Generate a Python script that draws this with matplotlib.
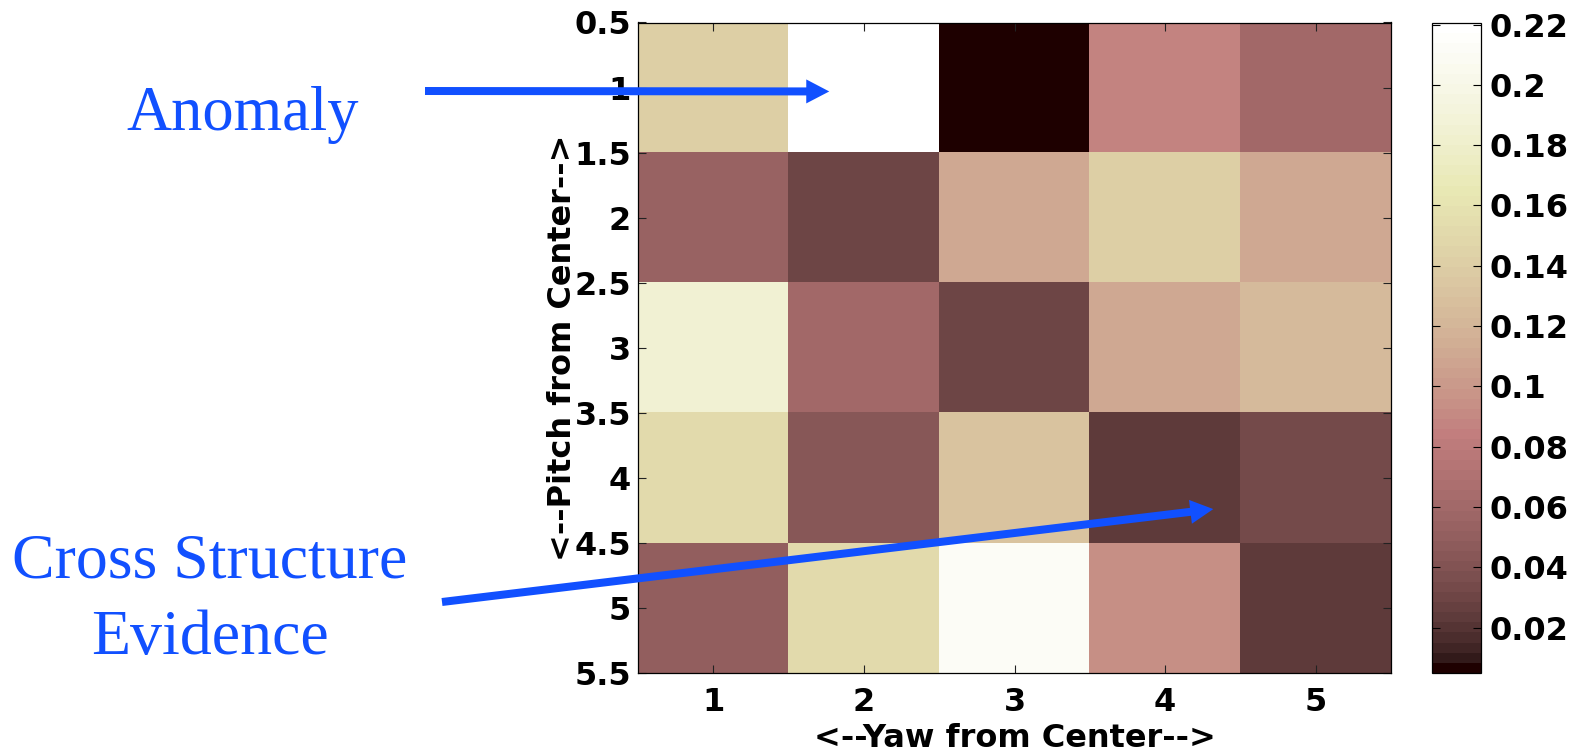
"""
Yaw/pitch response map with annotated features.

Draws a 5x5 heat map of the response around the beam centre using the
MATLAB-style "pink" colour map, with a colour bar on the right and two
callouts on the left pointing at the anomaly and the cross structure.
"""

import numpy as np
import matplotlib
matplotlib.use("Agg")
import matplotlib.pyplot as plt
from matplotlib.colors import ListedColormap
from matplotlib.patches import FancyArrow
from matplotlib.transforms import IdentityTransform

# ---- data -----------------------------------------------------------------
yaw = [1, 2, 3, 4, 5]
pitch = [1, 2, 3, 4, 5]

# rows = pitch bins (top to bottom), columns = yaw bins
row_1 = [0.1405, 0.2205, 0.0050, 0.0867, 0.0598]
row_2 = [0.0534, 0.0297, 0.1125, 0.1405, 0.1104]
row_3 = [0.1835, 0.0598, 0.0297, 0.1104, 0.1233]
row_4 = [0.1512, 0.0437, 0.1308, 0.0222, 0.0351]
row_5 = [0.0512, 0.1512, 0.2114, 0.0932, 0.0222]

pitch_ticks = [0.5, 1, 1.5, 2, 2.5, 3, 3.5, 4, 4.5, 5, 5.5]
cbar_ticks = [0.02, 0.04, 0.06, 0.08, 0.10, 0.12, 0.14, 0.16, 0.18, 0.20, 0.22]

callouts = ["Anomaly", "Cross Structure", "Evidence"]
anomaly_at = (1.77, 1.03)      # (yaw, pitch) the arrow points to
cross_at = (4.32, 4.24)

W, H, DPI = 1583, 753, 100
BLUE = "#1150FF"


def pink(m=64):
    """MATLAB pink(m): sqrt((2*gray(m) + hot(m)) / 3)."""
    n = int(3 / 8 * m)
    ramp = np.arange(1, n + 1) / n
    r = np.concatenate([ramp, np.ones(m - n)])
    g = np.concatenate([np.zeros(n), ramp, np.ones(m - 2 * n)])
    b = np.concatenate([np.zeros(2 * n), np.arange(1, m - 2 * n + 1) / (m - 2 * n)])
    gray = np.arange(m) / (m - 1)
    hot = np.column_stack([r, g, b])
    return ListedColormap(np.sqrt((2 * gray[:, None] + hot) / 3), name="mpink")


def px_to_fig(x, y_top):
    """Pixel position (origin top-left) -> figure fraction."""
    return x / W, 1 - y_top / H


data = np.array([row_1, row_2, row_3, row_4, row_5])

fig = plt.figure(figsize=(W / DPI, H / DPI), dpi=DPI)
fig.patch.set_facecolor("white")

ax_l, ax_r, ax_t, ax_b = 638, 1391, 22.5, 673
ax = fig.add_axes([ax_l / W, 1 - ax_b / H, (ax_r - ax_l) / W, (ax_b - ax_t) / H])
cax = fig.add_axes([1432 / W, 1 - ax_b / H, 49 / W, (ax_b - 23) / H])

im = ax.imshow(data, cmap=pink(64), interpolation="nearest", aspect="auto",
               extent=(yaw[0] - 0.5, yaw[-1] + 0.5, pitch[-1] + 0.5, pitch[0] - 0.5))

bold = dict(family="DejaVu Sans", weight="bold", size=23)

ax.set_xticks(yaw)
ax.set_xticklabels([str(v) for v in yaw], fontdict=bold)
ax.set_yticks(pitch_ticks)
ax.set_yticklabels([f"{v:g}" for v in pitch_ticks], fontdict=bold)
ax.tick_params(direction="in", length=6, width=0.8, top=True, right=True,
               color="#222222")
ax.tick_params(axis="x", pad=10)
ax.tick_params(axis="y", pad=5)
for s in ax.spines.values():
    s.set_linewidth(0.9)

ax.set_xlabel("<--Yaw from Center-->", fontdict=bold)
ax.set_ylabel("<--Pitch from Center-->", fontdict=bold)
ax.xaxis.set_label_coords(0.5, -0.077)
ax.yaxis.set_label_coords(-0.080, 0.5)

cb = fig.colorbar(im, cax=cax)
cb.set_ticks(cbar_ticks)
cb.set_ticklabels([f"{v:g}" for v in cbar_ticks])
for lab in cax.get_yticklabels():
    lab.set_fontfamily("DejaVu Sans")
    lab.set_fontweight("bold")
    lab.set_fontsize(23)
cax.tick_params(direction="in", length=6, width=0.8, left=True, right=True, pad=6)
cb.outline.set_linewidth(0.9)

# callout text
serif = dict(family="Liberation Serif", color=BLUE, ha="center", va="baseline")
fig.text(*px_to_fig(243, 130), callouts[0], size=45, **serif)
fig.text(*px_to_fig(210, 578), callouts[1], size=46, **serif)
fig.text(*px_to_fig(210, 654), callouts[2], size=46, **serif)


def arrow_to(tail_px, target):
    """Arrow from a pixel position (top-left origin) to a data point."""
    tx, ty = tail_px[0], H - tail_px[1]
    hx, hy = ax.transData.transform(target)
    fig.add_artist(FancyArrow(tx, ty, hx - tx, hy - ty, width=8,
                              head_width=24, head_length=23,
                              length_includes_head=True, color=BLUE, lw=0,
                              transform=IdentityTransform()))


arrow_to((425, 91), anomaly_at)
arrow_to((442, 602), cross_at)

fig.savefig("out.png", dpi=DPI, facecolor="white")
